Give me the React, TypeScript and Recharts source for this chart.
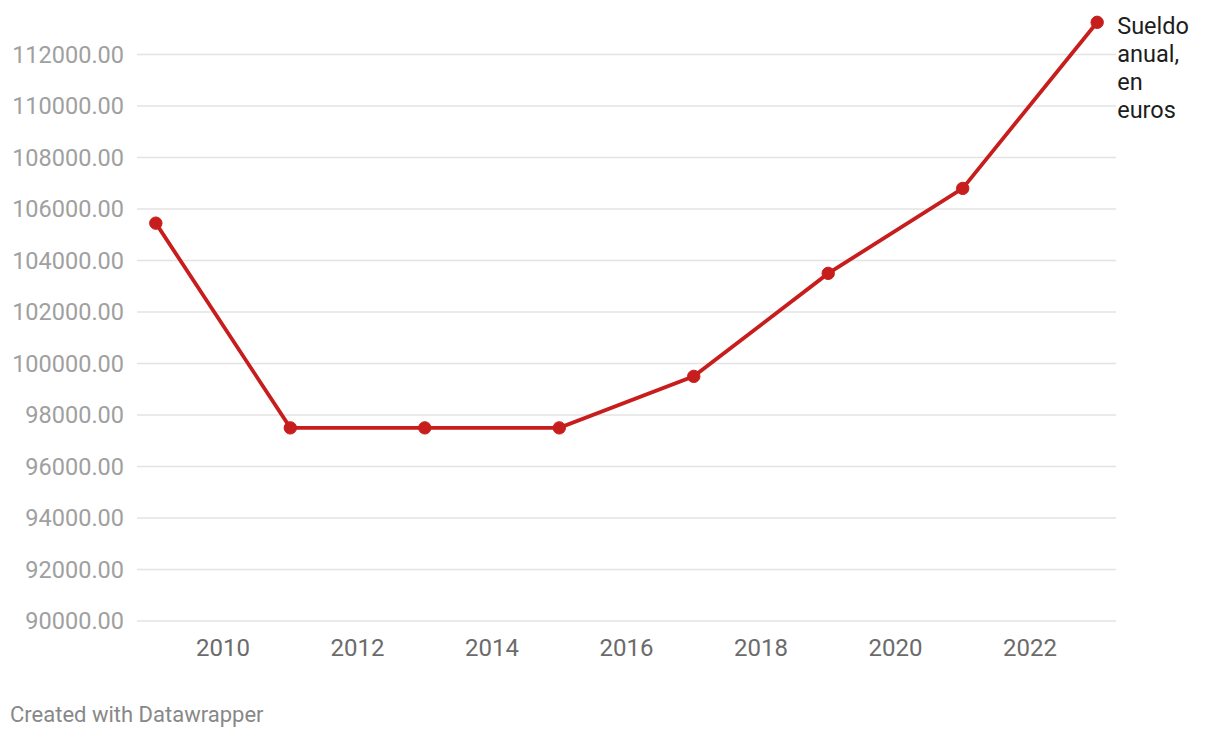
import React from 'react';
import { LineChart, Line, XAxis, YAxis, ReferenceLine, LabelList } from 'recharts';

const years = [2009, 2011, 2013, 2015, 2017, 2019, 2021, 2023];
const salary = [105450, 97500, 97500, 97500, 99500, 103500, 106800, 113250];
const yTicks = [90000, 92000, 94000, 96000, 98000, 100000, 102000, 104000, 106000, 108000, 110000, 112000];
const xTicks = [2010, 2012, 2014, 2016, 2018, 2020, 2022];
const seriesLabel = ['Sueldo', 'anual,', 'en', 'euros'];

const RED = '#c71e1d';

const data = years.map((y, i) => ({ year: y, value: salary[i] }));

const EndLabel = (props: any) => {
  const { x, y, index } = props;
  if (index !== data.length - 1) return null;
  return (
    <text x={x + 20} y={y + 12} fill="#1d1d1d" fontSize={23.5} fontFamily="Roboto">
      {seriesLabel.map((s, i) => (
        <tspan key={s} x={x + 20} dy={i === 0 ? 0 : 27.8}>{s}</tspan>
      ))}
    </text>
  );
};

export default function App() {
  return (
    <div style={{ position: 'absolute', left: 0, top: 0, width: 1220, height: 738, background: '#fff', fontFamily: 'Roboto' }}>
      <LineChart
        width={1220}
        height={670}
        data={data}
        margin={{ top: 3, right: 104, left: 0, bottom: 9 }}
      >
        <XAxis
          dataKey="year"
          type="number"
          domain={[2008.72, 2023.28]}
          allowDataOverflow
          ticks={xTicks}
          axisLine={false}
          tickLine={false}
          tickSize={0}
          tickMargin={18}
          height={40}
          tick={{ fill: '#6b6b6b', fontSize: 24, fontFamily: 'Roboto' }}
        />
        <YAxis
          type="number"
          domain={[90000, 114000]}
          ticks={yTicks}
          interval={0}
          axisLine={false}
          tickLine={false}
          tickSize={0}
          tickMargin={13}
          width={137}
          tickFormatter={(v: number) => v.toFixed(2)}
          tick={{ fill: '#a0a0a0', fontSize: 23.5, fontFamily: 'Roboto' }}
        />
        {yTicks.map((t) => (
          <ReferenceLine key={t} y={t} stroke="#e3e3e3" strokeWidth={1.5} />
        ))}
        <Line
          dataKey="value"
          stroke={RED}
          strokeWidth={3.8}
          dot={{ r: 6.2, fill: RED, stroke: RED, strokeWidth: 1 }}
          activeDot={false}
          isAnimationActive={false}
        >
          <LabelList dataKey="value" content={EndLabel} />
        </Line>
      </LineChart>
      <div style={{ position: 'absolute', left: 10, top: 702, fontSize: 22, color: '#888', fontFamily: 'Roboto' }}>
        Created with Datawrapper
      </div>
    </div>
  );
}
